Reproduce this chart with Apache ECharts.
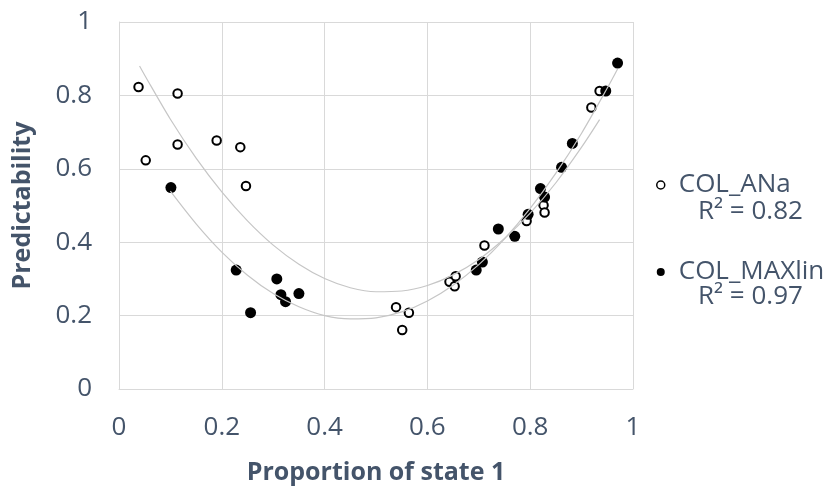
<!DOCTYPE html>
<html>
<head>
<meta charset="utf-8">
<script src="https://cdn.jsdelivr.net/npm/echarts@6/dist/echarts.min.js"></script>
<style>
	html, body { margin: 0; padding: 0; background: #fff; }
	#main { width: 829px; height: 490px; }
</style>
</head>
<body>
<div id="main"></div>
<script>
//series names and trendline labels
var seriesNames = ['COL_ANa', 'COL_MAXlin'];
var r2Labels = ['R\u00b2 = 0.82', 'R\u00b2 = 0.97'];

//axis ticks
var xTicks = [0, 0.2, 0.4, 0.6, 0.8, 1];
var yTicks = [0, 0.2, 0.4, 0.6, 0.8, 1];

//COL_ANa points (open markers) [proportion, predictability]
var anaPoints = [
	[0.038, 0.823], [0.114, 0.805], [0.052, 0.623], [0.114, 0.666], [0.190, 0.677],
	[0.236, 0.659], [0.247, 0.553], [0.539, 0.223], [0.564, 0.208], [0.551, 0.161],
	[0.643, 0.292], [0.655, 0.307], [0.653, 0.280], [0.711, 0.391], [0.793, 0.458],
	[0.826, 0.501], [0.828, 0.481], [0.919, 0.767], [0.935, 0.812]
];

//COL_MAXlin points (filled markers)
var maxPoints = [
	[0.101, 0.549], [0.228, 0.324], [0.256, 0.208], [0.307, 0.300], [0.315, 0.257],
	[0.324, 0.238], [0.350, 0.260], [0.695, 0.324], [0.707, 0.346], [0.738, 0.436],
	[0.770, 0.416], [0.796, 0.476], [0.820, 0.546], [0.828, 0.523], [0.861, 0.604],
	[0.882, 0.669], [0.947, 0.812], [0.970, 0.888]
];

//trendlines
var anaTrend = [
	[0.04, 0.880], [0.05, 0.855], [0.10, 0.735], [0.15, 0.629], [0.20, 0.537], [0.25, 0.458],
	[0.30, 0.392], [0.35, 0.340], [0.40, 0.301], [0.45, 0.276], [0.50, 0.265], [0.55, 0.267],
	[0.60, 0.282], [0.65, 0.311], [0.70, 0.353], [0.75, 0.410], [0.80, 0.479], [0.85, 0.562],
	[0.90, 0.659], [0.935, 0.734]
];
var maxTrend = [
	[0.10, 0.539], [0.15, 0.450], [0.20, 0.373], [0.25, 0.310], [0.30, 0.260], [0.35, 0.224],
	[0.40, 0.200], [0.45, 0.191], [0.50, 0.194], [0.55, 0.210], [0.60, 0.240], [0.65, 0.283],
	[0.70, 0.339], [0.75, 0.409], [0.80, 0.492], [0.85, 0.588], [0.90, 0.697], [0.95, 0.820],
	[0.97, 0.872]
];

var textColor = '#44546a';
var fontName = 'Open Sans';

var myChart = echarts.init(document.getElementById('main'), null, { renderer: 'canvas' });

var option = {
	backgroundColor: '#fff',
	animation: false,
	textStyle: { fontFamily: fontName },
	grid: { left: 119, right: 196, top: 22, bottom: 97, containLabel: false },
	legend: {
		orient: 'vertical',
		left: 651,
		top: 165,
		itemWidth: 8,
		itemHeight: 8,
		itemGap: 57,
		textStyle: { fontSize: 26, lineHeight: 30, color: textColor, fontFamily: fontName, padding: [0, 0, 0, 9] },
		data: [
			{ name: seriesNames[0], icon: 'circle', itemStyle: { color: '#fff', borderColor: '#000', borderWidth: 1.5 } },
			{ name: seriesNames[1], icon: 'circle', itemStyle: { color: '#000', borderWidth: 0 } }
		]
	},
	graphic: [
		{ type: 'text', left: 698, top: 199, style: { text: r2Labels[0], fontSize: 26, fontFamily: fontName, fill: textColor } },
		{ type: 'text', left: 698, top: 284, style: { text: r2Labels[1], fontSize: 26, fontFamily: fontName, fill: textColor } }
	],
	xAxis: {
		type: 'value',
		min: xTicks[0],
		max: xTicks[xTicks.length - 1],
		interval: 0.2,
		name: 'Proportion of state 1',
		nameLocation: 'middle',
		nameGap: 71,
		nameTextStyle: { fontSize: 25, fontWeight: 'bold', color: textColor, fontFamily: fontName },
		axisLine: { show: true, lineStyle: { color: '#d9d9d9' } },
		axisTick: { show: false },
		axisLabel: {
			fontSize: 26, color: textColor, margin: 26, fontFamily: fontName,
			formatter: function(v) { return String(Math.round(v * 10) / 10); }
		},
		splitLine: { show: true, lineStyle: { color: '#d9d9d9' } }
	},
	yAxis: {
		type: 'value',
		min: yTicks[0],
		max: yTicks[yTicks.length - 1],
		interval: 0.2,
		name: 'Predictability',
		nameLocation: 'middle',
		nameRotate: 90,
		nameGap: 84,
		nameTextStyle: { fontSize: 25, fontWeight: 'bold', color: textColor, fontFamily: fontName },
		axisLine: { show: true, lineStyle: { color: '#d9d9d9' } },
		axisTick: { show: false },
		axisLabel: {
			fontSize: 26, color: textColor, margin: 27, fontFamily: fontName,
			formatter: function(v) { return String(Math.round(v * 10) / 10); }
		},
		splitLine: { show: true, lineStyle: { color: '#d9d9d9' } }
	},
	series: [
		{
			name: seriesNames[0],
			type: 'scatter',
			data: anaPoints,
			symbol: 'circle',
			symbolSize: 8.5,
			itemStyle: { color: '#fff', borderColor: '#000', borderWidth: 2, opacity: 1 },
			z: 3
		},
		{
			name: seriesNames[1],
			type: 'scatter',
			data: maxPoints,
			symbol: 'circle',
			symbolSize: 11,
			itemStyle: { color: '#000', opacity: 1 },
			z: 3
		},
		{
			name: 'trendAna',
			type: 'line',
			data: anaTrend,
			smooth: 0.3,
			showSymbol: false,
			silent: true,
			lineStyle: { color: '#c6c6c6', width: 1.2 },
			z: 4
		},
		{
			name: 'trendMax',
			type: 'line',
			data: maxTrend,
			smooth: 0.3,
			showSymbol: false,
			silent: true,
			lineStyle: { color: '#c6c6c6', width: 1.2 },
			z: 4
		}
	]
};

myChart.setOption(option);
</script>
</body>
</html>
